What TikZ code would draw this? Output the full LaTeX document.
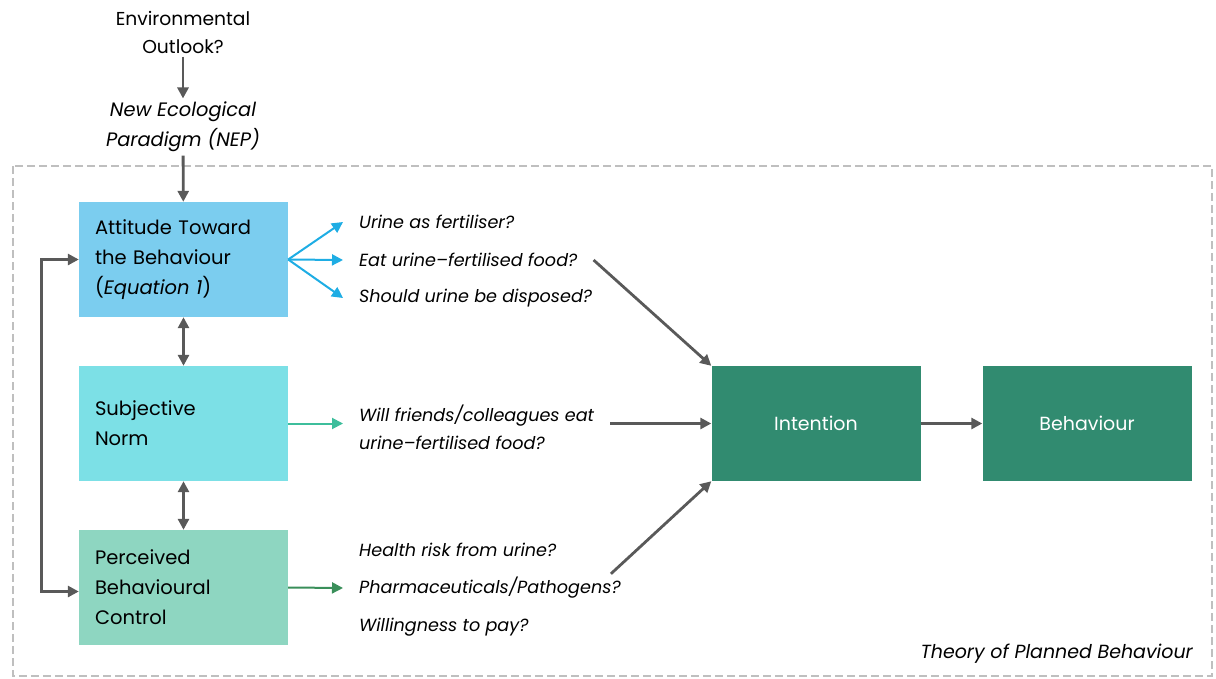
\documentclass[tikz,border=0pt]{standalone}
\usepackage{fontspec}
\setmainfont{Poppins}
\usetikzlibrary{arrows.meta,positioning}

\definecolor{attblue}{HTML}{7BCDEF}
\definecolor{normcyan}{HTML}{7CE0E6}
\definecolor{pbcgreen}{HTML}{8ED6C1}
\definecolor{tpbdark}{HTML}{318B70}
\definecolor{arrgray}{HTML}{595959}
\definecolor{arrblue}{HTML}{1EADE4}
\definecolor{arrteal}{HTML}{3DBE9C}
\definecolor{arrgreen}{HTML}{3A8F5A}
\definecolor{framegray}{HTML}{BFBFBF}

\tikzset{
  tpbbox/.style={minimum width=209pt, minimum height=115pt, inner xsep=16pt,
    text width=177pt, align=left, font=\fontsize{19.5}{30}\selectfont},
  darkbox/.style={minimum width=209pt, minimum height=115pt, fill=tpbdark,
    text=white, font=\fontsize{19}{30}\selectfont},
  question/.style={anchor=west, inner xsep=16pt, align=left,
    font=\fontsize{17.6}{28}\selectfont\itshape},
  grayarr/.style={->, arrgray, line width=2.8pt},
  colarr/.style={->, line width=2pt},
}

\begin{document}
\begin{tikzpicture}[x=1pt, y=-1pt, >={Triangle[length=11pt,width=11pt]}]
\useasboundingbox (0,0) rectangle (1216,678);

% frame of the theory
\draw [framegray, line width=2.5pt, dash pattern=on 8pt off 4pt] (13,166) rectangle (1212,676);
\node [anchor=south east, inner sep=0pt, font=\fontsize{19}{20}\selectfont\itshape] (tpblabel) at (1193,664) {Theory of Planned Behaviour};

% outlook
\node [align=center, font=\fontsize{18.7}{28}\selectfont] (env) at (183,32) {Environmental\\Outlook?};
\node [align=center, font=\fontsize{19.4}{30}\selectfont\itshape] (nep) at (183,127) {New Ecological\\Paradigm (NEP)};

% the three beliefs
\node [tpbbox, fill=attblue] (att) at (183.5,259.5) {Attitude Toward\\the Behaviour\\(\textit{Equation 1})};
\node [tpbbox, fill=normcyan] (norm) at (183.5,423.5) {Subjective\\Norm};
\node [tpbbox, fill=pbcgreen] (pbc) at (183.5,587.5) {Perceived\\Behavioural\\Control};

\node [darkbox] (int) at (816,423.5) {Intention};
\node [darkbox] (beh) at (1087,423.5) {Behaviour};

% questions
\node [question] (q1) at (343,222) {Urine as fertiliser?};
\node [question] (q2) at (343,260) {Eat urine–fertilised food?};
\node [question] (q3) at (343,298) {Should urine be disposed?};
\node [question] (q4) at (343,427) {Will friends/colleagues eat\\urine–fertilised food?};
\node [question] (q5) at (343,550) {Health risk from urine?};
\node [question] (q6) at (343,588) {Pharmaceuticals/Pathogens?};
\node [question] (q7) at (343,627) {Willingness to pay?};

\draw [grayarr] (env) -- (nep);
\draw [grayarr] (nep) -- (att);
\draw [grayarr, <->] (att) -- (norm);
\draw [grayarr, <->] (norm) -- (pbc);
\draw [grayarr, <->] (att.west) -- ++(-37,0) |- ([yshift=-4pt]pbc.west);

\draw [colarr, arrblue] (att.east) -- (q1.west);
\draw [colarr, arrblue] (att.east) -- (q2.west);
\draw [colarr, arrblue] (att.east) -- (q3.west);
\draw [colarr, arrteal] (norm.east) -- (norm.east -| q4.west);
\draw [colarr, arrgreen] (pbc.east) -- (q6.west);

\draw [grayarr] (q2.east) -- (int.north west);
\draw [grayarr] (norm.east -| q4.east) -- (int.west);
\draw [grayarr] ([xshift=-26pt]q6.north east) -- (int.south west);
\draw [grayarr] (int) -- (beh);
\end{tikzpicture}
\end{document}
